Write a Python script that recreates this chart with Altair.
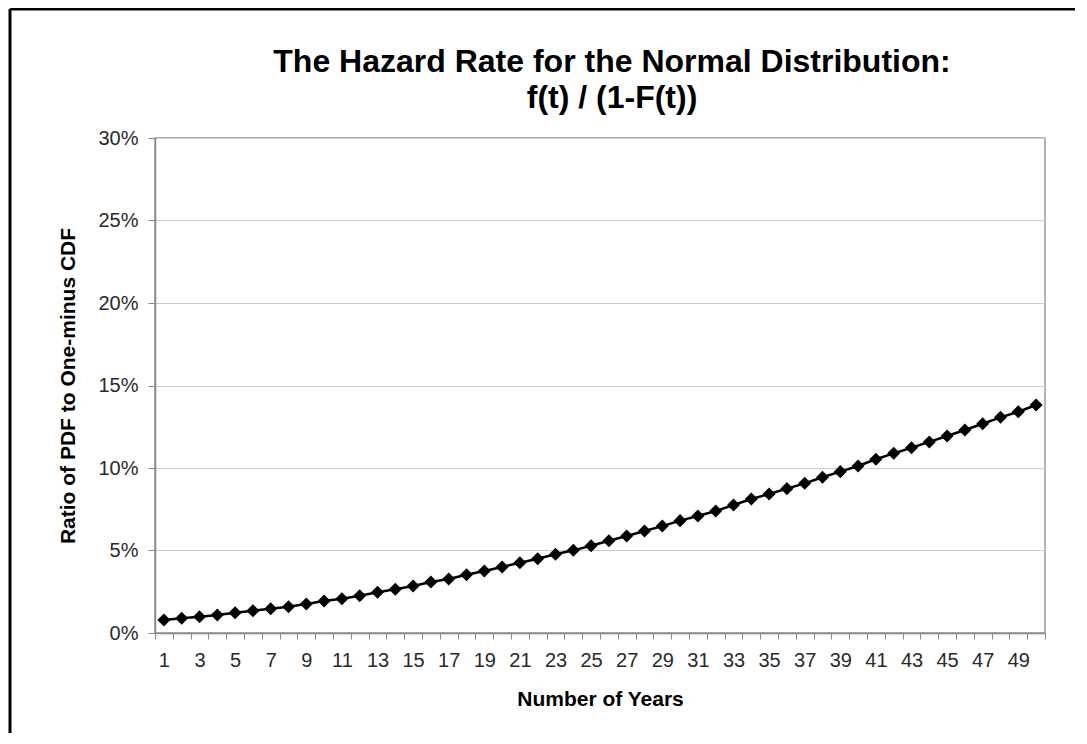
import altair as alt
import pandas as pd

years = list(range(1, 51))
hazard = [0.79, 0.89, 0.99, 1.09, 1.23, 1.35, 1.47, 1.59, 1.76, 1.94,
          2.08, 2.26, 2.47, 2.65, 2.85, 3.09, 3.27, 3.53, 3.76, 4.00,
          4.26, 4.50, 4.77, 5.01, 5.29, 5.59, 5.88, 6.18, 6.48, 6.81,
          7.09, 7.39, 7.76, 8.12, 8.42, 8.75, 9.07, 9.44, 9.78, 10.12,
          10.53, 10.89, 11.23, 11.58, 11.94, 12.30, 12.68, 13.07, 13.41, 13.82]

df = pd.DataFrame({"year": years, "rate": [v / 100 for v in hazard]})

FONT = "Liberation Sans"

x = alt.X("year:O", title="Number of Years",
          scale=alt.Scale(paddingInner=0, paddingOuter=0),
          axis=alt.Axis(labelAngle=0, labelExpr="datum.value % 2 == 1 ? datum.label : ''",
                        labelOverlap=False, tickBand="extent", tickSize=6,
                        labelPadding=11, titlePadding=18, grid=False))
y = alt.Y("rate:Q", title="Ratio of PDF to One-minus CDF",
          scale=alt.Scale(domain=[0, 0.30]),
          axis=alt.Axis(format=".0%", values=[0, 0.05, 0.10, 0.15, 0.20, 0.25, 0.30],
                        tickSize=7, labelPadding=10, titlePadding=19))

base = alt.Chart(df)
line = base.mark_line(color="black", strokeWidth=2.5).encode(x=x, y=y)
pts = base.mark_point(shape="diamond", filled=True, color="black", size=170, opacity=1).encode(x=x, y=y)

frame_top = alt.Chart(pd.DataFrame({"k": [0]})).mark_rule(color="black", strokeWidth=3).encode(
    x=alt.value(-145), x2=alt.value(940), y=alt.value(-129))
frame_left = alt.Chart(pd.DataFrame({"k": [0]})).mark_rule(color="black", strokeWidth=3).encode(
    x=alt.value(-145), y=alt.value(-129), y2=alt.value(620))

chart = alt.layer(line, pts, frame_top, frame_left).properties(
    width=890, height=495,
    background="white",
    title=alt.TitleParams(
        text=["The Hazard Rate for the Normal Distribution:", "f(t) / (1-F(t))"],
        font=FONT, fontSize=32, fontWeight="bold", color="black",
        anchor="middle", offset=-107, lineHeight=36, dx=12),
    padding={"left": 147, "top": 130, "right": 30, "bottom": 100},
    autosize=alt.AutoSizeParams(type="none"),
).configure_view(stroke="#999999", strokeWidth=1.5).configure_axis(
    labelFont=FONT, titleFont=FONT, labelFontSize=20, titleFontSize=21,
    labelColor="#2a2a2a", titleColor="black", titleFontWeight="bold",
    domainColor="#888888", domainWidth=1.5, tickColor="#888888",
    gridColor="#cccccc", gridWidth=1.2,
)

chart.save("out.html", embed_options={"renderer": "svg", "actions": False})
